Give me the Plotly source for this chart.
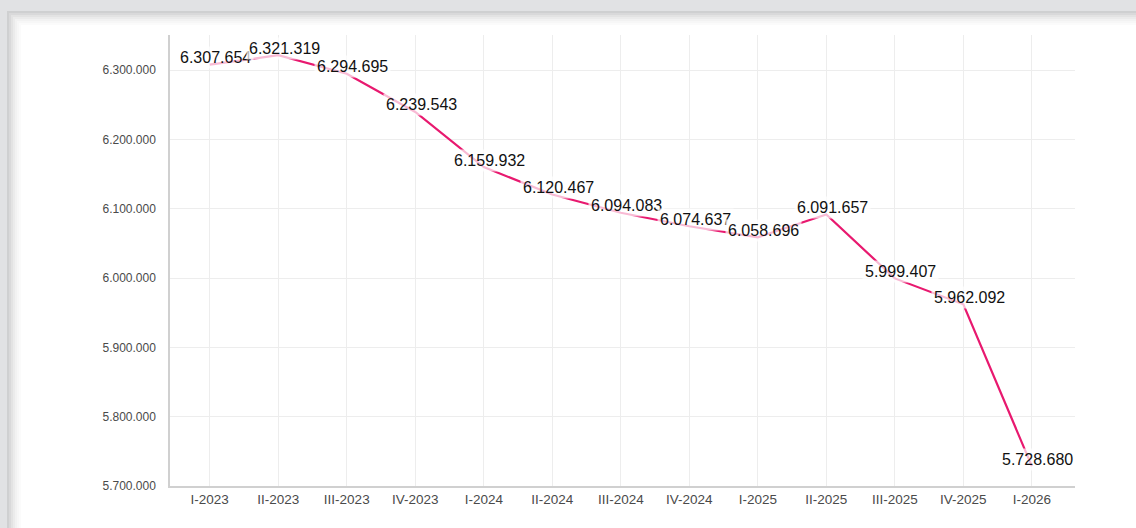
import plotly.graph_objects as go

quarters = ["I-2023", "II-2023", "III-2023", "IV-2023", "I-2024", "II-2024", "III-2024",
            "IV-2024", "I-2025", "II-2025", "III-2025", "IV-2025", "I-2026"]
values = [6307654, 6321319, 6294695, 6239543, 6159932, 6120467, 6094083,
          6074637, 6058696, 6091657, 5999407, 5962092, 5728680]
y_ticks = [5700000, 5800000, 5900000, 6000000, 6100000, 6200000, 6300000]

W, H = 1136, 528
L, R, T, B = 170, 61, 35, 42
PW, PH = W - L - R, H - T - B


def px(xp):
    return (xp - L) / PW


def py(yp):
    return (H - B - yp) / PH


def fmt(v):
    return f"{v:,}".replace(",", ".")


fig = go.Figure()
fig.add_trace(go.Scatter(
    x=quarters, y=values, mode="lines",
    line=dict(color="#e8196f", width=2.2),
    hoverinfo="skip", showlegend=False,
))

for q, v in zip(quarters, values):
    fig.add_annotation(
        x=q, y=v, text=fmt(v), showarrow=False,
        xshift=6, yshift=7,
        font=dict(family="Liberation Sans, Arial, sans-serif", size=16, color="#111111"),
        bgcolor="rgba(255,255,255,0.7)", borderpad=2,
    )

shapes = []
# page background frame (gray) with soft shadow
shapes.append(dict(type="rect", xref="paper", yref="paper", x0=px(0), x1=px(W), y0=py(0), y1=py(11),
                   fillcolor="#e1e2e4", line=dict(width=0), layer="below"))
shapes.append(dict(type="rect", xref="paper", yref="paper", x0=px(0), x1=px(7), y0=py(0), y1=py(H),
                   fillcolor="#e1e2e4", line=dict(width=0), layer="below"))
shade = ["#cfd0d1", "#d9d9da", "#e3e3e3", "#ebebeb", "#f2f2f2", "#f7f7f7", "#fbfbfb"]
for i, c in enumerate(shade):
    shapes.append(dict(type="rect", xref="paper", yref="paper", x0=px(7 + 2 * i), x1=px(W),
                       y0=py(11 + 2 * i), y1=py(13 + 2 * i),
                       fillcolor=c, line=dict(width=0), layer="below"))
    shapes.append(dict(type="rect", xref="paper", yref="paper", x0=px(7 + 2 * i), x1=px(9 + 2 * i),
                       y0=py(13 + 2 * i), y1=py(H),
                       fillcolor=c, line=dict(width=0), layer="below"))
fig.update_layout(shapes=shapes)

fig.update_layout(
    width=W, height=H,
    margin=dict(l=L, r=R, t=T, b=B),
    paper_bgcolor="white", plot_bgcolor="white",
    separators=",.",
    font=dict(family="Liberation Sans, Arial, sans-serif", color="#555555"),
    xaxis=dict(
        type="category", range=[-0.58, 12.63],
        showgrid=True, gridcolor="#ededed", gridwidth=1,
        showline=True, linecolor="#d0d0d0", linewidth=1.5,
        ticks="", tickfont=dict(size=13.5, color="#4a4a4a"),
        fixedrange=True,
    ),
    yaxis=dict(
        range=[5700000, 6350500],
        tickvals=y_ticks, ticktext=[fmt(v) for v in y_ticks],
        showgrid=True, gridcolor="#ededed", gridwidth=1,
        showline=True, linecolor="#d0d0d0", linewidth=1.5,
        zeroline=False, ticks="", ticklabelstandoff=10,
        tickfont=dict(size=12, color="#4a4a4a"),
        fixedrange=True,
    ),
)

fig.write_html(
    "out.html",
    config={"displayModeBar": False},
    post_script="document.body.style.margin='0';document.body.style.overflow='hidden';",
)
